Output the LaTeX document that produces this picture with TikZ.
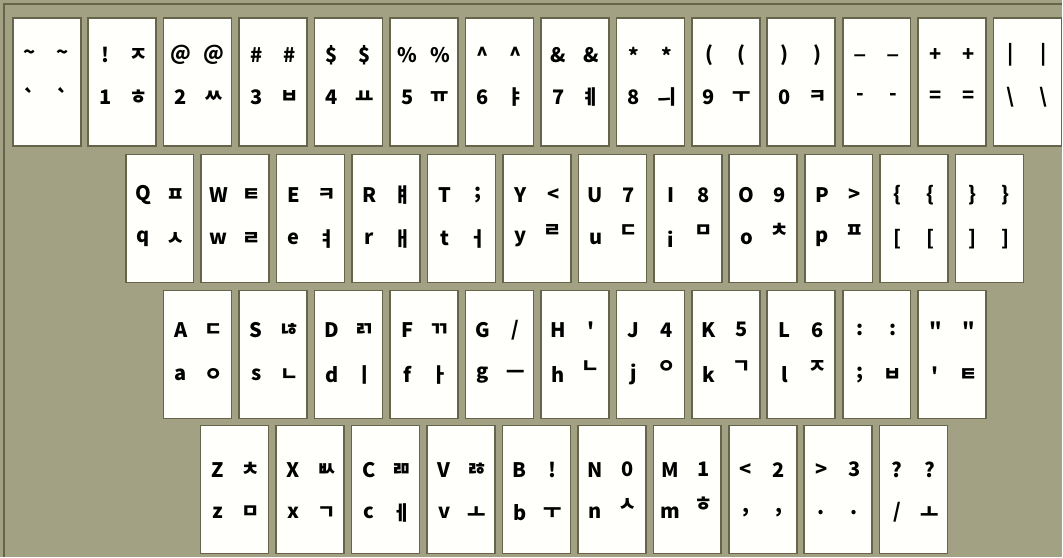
\documentclass[tikz,border=0pt]{standalone}
\usepackage{fontspec}
\setmainfont{Noto Sans CJK KR}
\usetikzlibrary{positioning}
\definecolor{cBoard}{HTML}{A2A183}
\definecolor{cEdge} {HTML}{66654C}
\definecolor{cCap}  {HTML}{FFFFFB}

\begin{document}
\begin{tikzpicture}[x=1pt, y=-1pt,
      kc/.style = {draw=cEdge, fill=cCap, line width=1.6pt, minimum width=68pt, minimum height=128pt, inner sep=0pt, anchor=north west},
      lb/.style = {font=\fontsize{20}{20}\selectfont\bfseries, inner sep=0pt, anchor=center} ]
    % board
    \fill[cBoard] (0,0) rectangle (1063,557);
    \draw[cEdge, line width=1.5pt] (4,557) -- (4,4) -- (1063,4);
    % number row
    \foreach \tl/\tr/\bl/\br/\rz [count=\i from 0] in {
        {\textasciitilde}/{\textasciitilde}/{\textasciigrave}/{\textasciigrave}/0,
        !/ㅈ/1/ㅎ/0, @/@/2/ㅆ/0, {\#}/{\#}/3/ㅂ/0, {\$}/{\$}/4/ㅛ/0, {\%}/{\%}/5/ㅠ/0,
        {\textasciicircum}/{\textasciicircum}/6/ㅑ/0, {\&}/{\&}/7/ㅖ/0, */*/8/ㅢ/0,
        {(}/{(}/9/ㅜ/0, {)}/{)}/0/ㅋ/0, {\_}/{\_}/-/-/0, +/+/=/=/0,
        {|}/{|}/{\textbackslash}/{\textbackslash}/0} {
      \node[kc] (r1k\i) at (12+75.5*\i, 17) {};
      \node[lb] (r1k\i-tl) at ([xshift=18pt, yshift=-38pt]r1k\i.north west) {\tl};
      \node[lb] (r1k\i-tr) at ([xshift=51pt, yshift=-38pt]r1k\i.north west) {\tr};
      \node[lb] (r1k\i-bl) at ([xshift=18pt, yshift=-80pt]r1k\i.north west) {\bl};
      \node[lb] (r1k\i-br) at ([xshift=51pt, yshift=-80pt+7pt*\rz]r1k\i.north west) {\br};
    }
    % upper row
    \foreach \tl/\tr/\bl/\br/\rz [count=\i from 0] in {
        Q/ㅍ/q/ㅅ/0, W/ㅌ/w/ㄹ/0, E/ㅋ/e/ㅕ/0, R/ㅒ/r/ㅐ/0, T/;/t/ㅓ/0,
        Y/</y/ㄹ/1, U/7/u/ㄷ/1, I/8/i/ㅁ/1, O/9/o/ㅊ/1, P/>/p/ㅍ/1,
        {\{}/{\{}/{[}/{[}/0, {\}}/{\}}/{]}/{]}/0} {
      \node[kc] (r2k\i) at (125+75.5*\i, 154) {};
      \node[lb] (r2k\i-tl) at ([xshift=18pt, yshift=-41pt]r2k\i.north west) {\tl};
      \node[lb] (r2k\i-tr) at ([xshift=51pt, yshift=-41pt]r2k\i.north west) {\tr};
      \node[lb] (r2k\i-bl) at ([xshift=18pt, yshift=-85pt]r2k\i.north west) {\bl};
      \node[lb] (r2k\i-br) at ([xshift=51pt, yshift=-85pt+8pt*\rz]r2k\i.north west) {\br};
    }
    % home row
    \foreach \tl/\tr/\bl/\br/\rz [count=\i from 0] in {
        A/ㄷ/a/ㅇ/0, S/ㄶ/s/ㄴ/0, D/ㄺ/d/ㅣ/0, F/ㄲ/f/ㅏ/0, G/{/}/g/ㅡ/0,
        H/{\textquotesingle}/h/ㄴ/1, J/4/j/ㅇ/1, K/5/k/ㄱ/1, L/6/l/ㅈ/1,
        :/:/;/ㅂ/0, {\textquotedbl}/{\textquotedbl}/{\textquotesingle}/ㅌ/0} {
      \node[kc] (r3k\i) at (163+75.5*\i, 290) {};
      \node[lb] (r3k\i-tl) at ([xshift=18pt, yshift=-40pt]r3k\i.north west) {\tl};
      \node[lb] (r3k\i-tr) at ([xshift=51pt, yshift=-40pt]r3k\i.north west) {\tr};
      \node[lb] (r3k\i-bl) at ([xshift=18pt, yshift=-85pt]r3k\i.north west) {\bl};
      \node[lb] (r3k\i-br) at ([xshift=51pt, yshift=-85pt+8pt*\rz]r3k\i.north west) {\br};
    }
    % lower row
    \foreach \tl/\tr/\bl/\br/\rz [count=\i from 0] in {
        Z/ㅊ/z/ㅁ/0, X/ㅄ/x/ㄱ/0, C/ㄻ/c/ㅔ/0, V/ㅀ/v/ㅗ/0, B/!/b/ㅜ/0,
        N/0/n/ㅅ/1, M/1/m/ㅎ/1, </2/{,}/{,}/0, >/3/././0, ?/?/{/}/ㅗ/0} {
      \node[kc] (r4k\i) at (200+75.5*\i, 425) {};
      \node[lb] (r4k\i-tl) at ([xshift=18pt, yshift=-45pt]r4k\i.north west) {\tl};
      \node[lb] (r4k\i-tr) at ([xshift=51pt, yshift=-45pt]r4k\i.north west) {\tr};
      \node[lb] (r4k\i-bl) at ([xshift=18pt, yshift=-88pt]r4k\i.north west) {\bl};
      \node[lb] (r4k\i-br) at ([xshift=51pt, yshift=-88pt+8pt*\rz]r4k\i.north west) {\br};
    }
  \end{tikzpicture}
\end{document}
